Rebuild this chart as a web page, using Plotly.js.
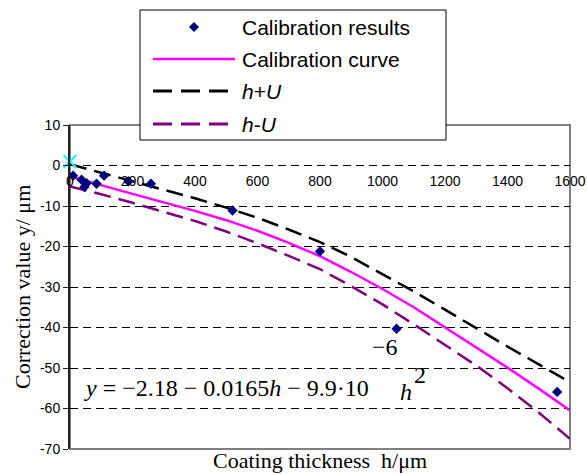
<!DOCTYPE html>
<html>
<head>
<meta charset="utf-8">
<script src="https://cdn.plot.ly/plotly-3.0.1.min.js"></script>
<style>
html,body{margin:0;padding:0;background:#fff;}
#chart{width:587px;height:474px;}
</style>
</head>
<body>
<div id="chart"></div>
<script>
// ---- data ----
const resultsH = [10, 37, 46, 53, 85, 109, 187, 259, 520, 800, 1045, 1559];
const resultsY = [-2.5, -3.5, -5.3, -4.4, -4.5, -2.5, -3.9, -4.5, -11.1, -21.2, -40.3, -55.9];

const curveH = [0, 100, 200, 300, 400, 500, 600, 700, 800, 900, 1000, 1100, 1200, 1300, 1400, 1500, 1600];
const curveY = [-2.7, -4.9, -7.0, -9.1, -11.2, -13.5, -16.1, -19.1, -22.4, -26.3, -30.5, -35.0, -39.9, -44.8, -49.9, -55.1, -60.5];
const upperY = [0.3, -1.8, -3.9, -6.0, -8.1, -10.4, -12.9, -15.8, -18.9, -22.6, -26.8, -31.1, -35.6, -40.2, -44.7, -49.1, -53.5];
const lowerY = [-5.2, -7.1, -9.2, -11.4, -13.7, -16.3, -19.2, -22.3, -25.6, -29.8, -34.3, -39.2, -44.3, -49.4, -55.0, -61.0, -67.5];

const originH = [0];
const originY = [1];

const seriesNames = ["Calibration results", "Calibration curve", "<i>h</i>+<i>U</i>", "<i>h</i>-<i>U</i>"];
const xTicks = [0, 200, 400, 600, 800, 1000, 1200, 1400, 1600];
const yTicks = [-70, -60, -50, -40, -30, -20, -10, 0, 10];
const xTitle = "Coating thickness\u00a0\u00a0h/\u03bcm";
const yTitle = "Correction value y/ \u03bcm";
const eqMain = "<i>y</i> = \u22122.18 \u2212 0.0165<i>h</i> \u2212 9.9\u00b710";
const eqExp = "\u22126";
const eqH = "<i>h</i>";
const eqSq = "2";

// ---- style ----
const NAVY = "#000080", PINK = "#FF00FF", PURPLE = "#800080", CYAN = "#00FFFF";
const SANS = "Liberation Sans, Arial, sans-serif";
const SERIF = "Liberation Serif, Times New Roman, serif";
const DASH = "17px,8px";

const M = {l: 70, r: 17, t: 125, b: 25};
const W = 587, H = 474;
const PW = W - M.l - M.r, PH = H - M.t - M.b;
const px2x = p => (p - M.l) / PW;       // pixel -> paper x
const px2y = p => (H - M.b - p) / PH;   // pixel -> paper y

const traces = [
  {x: curveH, y: upperY, mode: "lines", name: seriesNames[2],
   line: {color: "#000", width: 2.5, dash: DASH}, showlegend: false, hoverinfo: "skip"},
  {x: curveH, y: lowerY, mode: "lines", name: seriesNames[3],
   line: {color: PURPLE, width: 2.5, dash: DASH}, showlegend: false, hoverinfo: "skip"},
  {x: curveH, y: curveY, mode: "lines", name: seriesNames[1],
   line: {color: PINK, width: 2.5}, showlegend: false},
  {x: resultsH, y: resultsY, mode: "markers", name: seriesNames[0],
   marker: {symbol: "diamond", size: 8, color: NAVY}, showlegend: false, cliponaxis: false},
  {x: originH, y: originY, mode: "markers", name: "origin",
   marker: {symbol: "x-thin", size: 13, color: CYAN, line: {color: CYAN, width: 2}},
   showlegend: false, cliponaxis: false}
];

// legend (drawn by hand to match the boxed Excel legend)
const LB = {x0: 140, x1: 446, y0: 10, y1: 140};
const rowY = [27, 59, 91, 124];
const symX0 = 153, symX1 = 232, textX = 240, diaX = 194;

const shapes = [
  {type: "rect", xref: "paper", yref: "paper", x0: 0, x1: 1, y0: 0, y1: 1,
   line: {color: "#808080", width: 2}, layer: "between"},
  {type: "rect", xref: "paper", yref: "paper",
   x0: px2x(LB.x0), x1: px2x(LB.x1), y0: px2y(LB.y1), y1: px2y(LB.y0),
   fillcolor: "#fff", line: {color: "#000", width: 1}, layer: "above"},
  {type: "path", xref: "paper", yref: "paper", xsizemode: "pixel", ysizemode: "pixel",
   xanchor: px2x(diaX), yanchor: px2y(rowY[0]),
   path: "M 0 5 L 5 0 L 0 -5 L -5 0 Z", fillcolor: NAVY, line: {width: 0}, layer: "above"},
  {type: "line", xref: "paper", yref: "paper", x0: px2x(symX0), x1: px2x(symX1 + 3),
   y0: px2y(rowY[1]), y1: px2y(rowY[1]), line: {color: PINK, width: 2.5}, layer: "above"},
  {type: "line", xref: "paper", yref: "paper", x0: px2x(symX0), x1: px2x(symX1),
   y0: px2y(rowY[2]), y1: px2y(rowY[2]), line: {color: "#000", width: 3, dash: "19px,9px"}, layer: "above"},
  {type: "line", xref: "paper", yref: "paper", x0: px2x(symX0), x1: px2x(symX1),
   y0: px2y(rowY[3]), y1: px2y(rowY[3]), line: {color: PURPLE, width: 3, dash: "19px,9px"}, layer: "above"}
];

const annotations = [];
seriesNames.forEach((n, i) => {
  annotations.push({xref: "paper", yref: "paper", x: px2x(textX), y: px2y(rowY[i]),
    xanchor: "left", yanchor: "middle", text: n, showarrow: false,
    font: {family: SANS, size: 21, color: "#000"}});
});
annotations.push(
  {xref: "paper", yref: "paper", x: 0.5, y: px2y(460), xanchor: "center", yanchor: "middle",
   text: xTitle, showarrow: false, borderpad: 0, font: {family: SERIF, size: 22, color: "#000"}},
  {xref: "paper", yref: "paper", x: px2x(22), y: 0.5, xanchor: "center", yanchor: "middle",
   text: yTitle, textangle: -90, showarrow: false, font: {family: SERIF, size: 22, color: "#000"}},
  {xref: "paper", yref: "paper", x: px2x(82), y: px2y(388), xanchor: "left", yanchor: "middle",
   text: eqMain, showarrow: false, font: {family: SERIF, size: 24, color: "#000"}},
  {xref: "paper", yref: "paper", x: px2x(370), y: px2y(347), xanchor: "left", yanchor: "middle",
   text: eqExp, showarrow: false, font: {family: SERIF, size: 24, color: "#000"}},
  {xref: "paper", yref: "paper", x: px2x(398), y: px2y(392), xanchor: "left", yanchor: "middle",
   text: eqH, showarrow: false, font: {family: SERIF, size: 24, color: "#000"}},
  {xref: "paper", yref: "paper", x: px2x(412), y: px2y(375), xanchor: "left", yanchor: "middle",
   text: eqSq, showarrow: false, font: {family: SERIF, size: 24, color: "#000"}}
);

const layout = {
  width: W, height: H,
  margin: M,
  paper_bgcolor: "#fff", plot_bgcolor: "#fff",
  showlegend: false,
  xaxis: {
    range: [0, 1600], tickvals: xTicks, ticktext: xTicks.map(String),
    anchor: "free", position: 0.875,
    showgrid: false, zeroline: false, showline: false, ticks: "",
    ticklabelstandoff: 5,
    tickfont: {family: SANS, size: 14, color: "#000"}, fixedrange: true
  },
  yaxis: {
    range: [-70, 10], tickvals: yTicks, ticktext: yTicks.map(String),
    showgrid: true, gridcolor: "#000", gridwidth: 1, griddash: "8px,5px",
    zeroline: false, showline: true, linecolor: "#222", linewidth: 2,
    ticks: "outside", ticklen: 5, tickcolor: "#222", tickwidth: 1,
    tickfont: {family: SANS, size: 14, color: "#000"}, fixedrange: true
  },
  shapes: shapes,
  annotations: annotations
};

Plotly.newPlot("chart", traces, layout, {displayModeBar: false, staticPlot: true});
</script>
</body>
</html>
